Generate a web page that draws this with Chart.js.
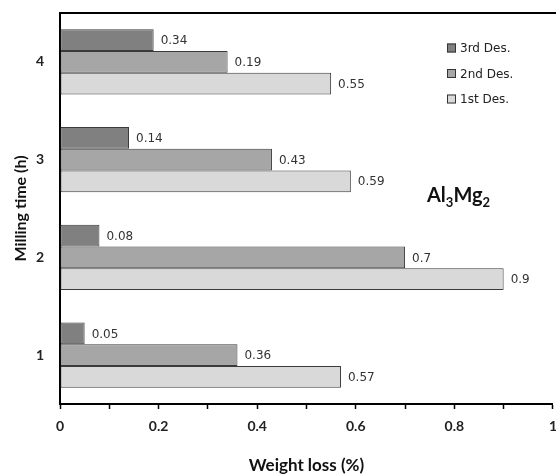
<!DOCTYPE html>
<html>
<head>
<meta charset="utf-8">
<script src="https://cdn.jsdelivr.net/npm/chart.js@4"></script>
<style>
  html, body { margin: 0; padding: 0; background: #fff; overflow: hidden; }
  #wrap { width: 556px; height: 476px; overflow: hidden; }
</style>
</head>
<body>
<div id="wrap"><canvas id="chart" width="566" height="476"></canvas></div>
<script>
// milling time categories (h)
const categories = ['1', '2', '3', '4'];
const seriesNames = ['3rd Des.', '2nd Des.', '1st Des.'];
const seriesColors = ['#808080', '#a6a6a6', '#d9d9d9'];

// bar lengths
const thirdDes = [0.05, 0.08, 0.14, 0.19];
const secondDes = [0.36, 0.70, 0.43, 0.34];
const firstDes = [0.57, 0.90, 0.59, 0.55];

// value labels as printed next to the bars
const thirdLabels = ['0.05', '0.08', '0.14', '0.34'];
const secondLabels = ['0.36', '0.7', '0.43', '0.19'];
const firstLabels = ['0.57', '0.9', '0.59', '0.55'];

const xMin = 0, xMax = 1, xStep = 0.1;

const valueLabels = [thirdLabels, secondLabels, firstLabels];

const extras = {
    id: 'extras',
    afterDatasetsDraw(chart) {
        const ctx = chart.ctx;
        const area = chart.chartArea;
        ctx.save();

        // value labels
        ctx.font = '12px "DejaVu Sans"';
        ctx.fillStyle = '#333';
        ctx.textAlign = 'left';
        ctx.textBaseline = 'middle';
        chart.data.datasets.forEach((ds, i) => {
            const meta = chart.getDatasetMeta(i);
            meta.data.forEach((bar, j) => {
                ctx.fillText(valueLabels[i][j], bar.x + 7, bar.y + 1);
            });
        });

        // top frame line
        ctx.strokeStyle = '#000';
        ctx.lineWidth = 2;
        ctx.beginPath();
        ctx.moveTo(area.left - 1, area.top);
        ctx.lineTo(chart.width, area.top);
        ctx.stroke();

        // legend (top right, inside plot)
        const lx = 447, ly = 48, gap = 25.5;
        ctx.font = '12px "DejaVu Sans"';
        for (let k = 0; k < 3; k++) {
            const y = ly + k * gap;
            ctx.fillStyle = seriesColors[k];
            ctx.fillRect(lx, y - 4.5, 9, 9);
            ctx.strokeStyle = '#333';
            ctx.lineWidth = 1;
            ctx.strokeRect(lx + 0.5, y - 4, 8, 8);
            ctx.fillStyle = '#222';
            ctx.fillText(seriesNames[k], lx + 13, y + 1);
        }

        // compound label Al3Mg2
        ctx.fillStyle = '#111';
        ctx.textBaseline = 'alphabetic';
        let x = 427;
        const base = 202;
        const big = 'bold 20px Lato';
        const small = 'bold 13px Lato';
        const parts = [['Al', big, 0], ['3', small, 5], ['Mg', big, 0], ['2', small, 5]];
        parts.forEach(p => {
            ctx.font = p[1];
            ctx.fillText(p[0], x, base + p[2]);
            x += ctx.measureText(p[0]).width;
        });
        ctx.restore();
    }
};

const ctx = document.getElementById('chart').getContext('2d');
new Chart(ctx, {
    type: 'bar',
    data: {
        labels: categories,
        datasets: [
            { label: seriesNames[0], data: thirdDes, backgroundColor: seriesColors[0] },
            { label: seriesNames[1], data: secondDes, backgroundColor: seriesColors[1] },
            { label: seriesNames[2], data: firstDes, backgroundColor: seriesColors[2] }
        ].map(d => Object.assign(d, {
            borderColor: '#3a3a3a',
            borderWidth: 1,
            borderSkipped: false,
            categoryPercentage: 0.667,
            barPercentage: 1
        }))
    },
    options: {
        indexAxis: 'y',
        responsive: false,
        animation: false,
        devicePixelRatio: 1,
        layout: { padding: { top: 13, left: 0, right: 10, bottom: 0 } },
        plugins: {
            legend: { display: false },
            tooltip: { enabled: false }
        },
        scales: {
            x: {
                min: xMin,
                max: xMax,
                afterFit: s => { s.height = 72; },
                ticks: {
                    stepSize: xStep,
                    autoSkip: false,
                    maxRotation: 0,
                    padding: 9,
                    color: '#222',
                    font: { family: 'Lato', weight: 'bold', size: 14 },
                    callback: v => (Math.round(v * 10) % 2 === 0 ? String(Math.round(v * 10) / 10) : '')
                },
                grid: { drawOnChartArea: false, tickLength: 5, color: '#000', tickWidth: 1.5 },
                border: { color: '#000', width: 2 },
                title: {
                    display: true,
                    text: 'Weight loss (%)',
                    color: '#111',
                    font: { family: 'Lato', weight: 'bold', size: 17 },
                    padding: { top: 0, bottom: 0 }
                }
            },
            y: {
                reverse: true,
                afterFit: s => { s.width = 60; s.paddingTop = 0; s.paddingBottom = 0; },
                grid: { display: false, drawTicks: false },
                border: { color: '#000', width: 2 },
                ticks: {
                    padding: 16,
                    color: '#222',
                    font: { family: 'Lato', weight: 'bold', size: 14 }
                },
                title: {
                    display: true,
                    text: 'Milling time (h)',
                    color: '#111',
                    font: { family: 'Lato', weight: 'bold', size: 16 },
                    padding: { top: 11, bottom: 6 }
                }
            }
        }
    },
    plugins: [extras]
});
</script>
</body>
</html>
